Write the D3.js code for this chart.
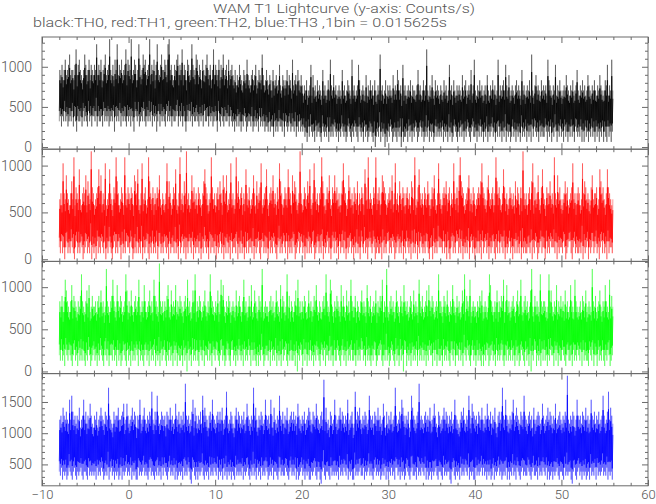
<!DOCTYPE html>
<html><head><meta charset="utf-8">
<script src="https://cdn.jsdelivr.net/npm/d3@7"></script>
<style>
body{margin:0;background:#fff}
svg text{font-family:Roboto,'DejaVu Sans',sans-serif;font-weight:300;fill:#555}
</style>
</head><body><svg id="c" width="656" height="504"></svg>
<script>
// ---- data (levels per 0.125 s chunk, base-36 digit = counts per 1/64 s bin) ----
const binSize = 0.015625;
const chunkDt = 0.125;
const tStart = -8;
const xTicks = [-10, 0, 10, 20, 30, 40, 50, 60];
const panelColors = ["#000000", "#ff0000", "#00ff00", "#0000ff"];
const yTicks = [[0, 500, 1000], [0, 500, 1000], [0, 500, 1000], [500, 1000, 1500]];
const titleText = "WAM T1 Lightcurve (y-axis: Counts/s)";
const subtitleText = "black:TH0, red:TH1, green:TH2, blue:TH3 ,1bin = 0.015625s";

const th0Max = ["fegdfhefgieffdgjeghfedfigefhdgfe","gfkegfhdfgiefglfegdhfkegfhefgjeh","gflefhgdfkgefighefglegfhdgkfegif","fhgeklfgedgfhiegfjegfdhgefkgfeih","egfdhfegifegdfjegfehdgfiefgdhefg","edfcedgedcfedhedcefdegcdfediecdf","dcedbfcdecdgcbedcdfcedbhcdecfdce","cacbdabcgaebcadbcbafbcabdbhcbebc","abcbafbcabdcbahbcabcgdabcbaeacbd","bcadbacbibcabdacbcbaebcbfdbcagbc","abcbdacbbacfbcabdbcjbacbebadbcba","cbadbcabgbcadbacbcbaebcdabcbfach","bacbdbcabcaebacbdbcabhacbcdbgcbe","abcbacdbcbafbcabcbdaibacebcbadbc","bcahdcbacbgacbdbabcbecbacbdabcfb","acbdbcabecbacbdbacbecbabdcgacbhb"];
const th0Min = ["56465756456574653655647565475646","65746556475656456573656574656546","56465376564565754656574656357465","65475656465567465646536575646556","54656475564656456537546546556465","45354645354653455463454536454534","43534425343544352543453443524353","43423142432314233214323241323243","23132432312432132432143231423123","32130232413230213243123213240312","23142313243123423123241323124232","32413231423124321324231324321342","23132423132413234231324231324132","31242313231423241323142432314232","24313241324313242314231324231432","32413142313242314231324132142313"];
const th1Max = ["ab9gbaeba9bdah9cbafa9bcbe9dbaicb","9abcfbe9bag9abfba9cbhdb9acb9hbac","bacb9edbfa9bgabc9ahdbac9bacbea9b","a9bgadb9acbfa9bhab9dbiab9aebcab9","cba9bdfcb9abhcab9bcadb9ecbe9abga","b9ahbdabc9bafbac9abeb9dabcg9abcf","a9bcbeab9cagdb9acbafcb9ebdca9bib","9acbadbfa9bgcab9bchdb9acbea9cbeb","cab9bdgcb9aecab9cbad9bacb9fcahab","a9cbhabc9bedcb9abcae9bgab9dbacb9","bcab9dcah9acfbab9cbadb9acbea9bgb","a9bcbdabc9bagbac9ehdcb9abceab9cb","9abcbdgcba9cebabc9bhdbca9bfcab9a","cbab9dacb9caibab9bcadg9cabea9cfb","a9cbbdab9hbaebca9abdbc9abcgab9bc","b9agbdcaba9ceabbc9afdbca9bfcba9a"];
const th1Min = ["21312023121321023121320123121302","12031213213021321023121320312132","21320121312130212310213121302312","13212031221312031231202132130212","21302132120312213021231202131203","12213021312021312213021231023121","20312132102312132130212132012312","31202131213201231213021231202313","12031221302123120213120321312023","21320121120312133121320123121302","13212031213021321213210220312132","22131203102312133121302121302312","02131203123120212310213132130212","31202131213021211221302132012312","20312132221302122132012331023121","12130212302123123120231312031221"];
const th2Max = ["dcebdhfdcbdgcedcbdceidcbdfcgbcec","cdbdecfcdbcjdcbdehdcbgdcedbcdifb","dcfcbdecdhcbdcgdbcdfcdbhedcbkdcd","bdcegcbfcdcgbdcedcbdechcdbcfdibd","cedbcdfcbdciedcbdcfbdhegcbdcedbc","dcbfcdecbdhcdbcecgbcfdcbedcjbcdc","cbdecdbcfdcbgcedbcicebdcbdfchcdb","dcedbcfcdbcedgcbdcbdecidcbhfcbdc","edcbgcecbfcdbhdccebdcbdfcdcbgdce","bcdcfbdcedhbdcjcbdecdbcfdcbedcgd","cdbcedbfcdcbhdcebcdfcgdcedbcdcid","dcbedcfcbdcgdcbecdbcfdibedchbcdc","cbdcedfbcdcbeigdcbdcfbdcedhbdgcd","bcdecbdfcdhcbdecdbcfjcbecdcbidcd","dcbcidfcbdcgbdcecdbfcdbcgdcbhdcb","cdbedcfbcdcbjdcebcdfcbdcgdcbhcec"];
const th2Min = ["32423143243213423142324213243123","42313243214324133242314231243214","23142324314232134231423241323142","34213242314241322314230423142324","21432413324231432432134231243214","42313243231423243142321313243123","32414232413231423421324223140324","31424132423132432143241332423142","24321342314232422314232442314232","13243123342132423124321423142304","41323142324142324231324331424132","23142324214324133242314324321342","31423213132431234231423234213242","32423142312432142314032441323142","42313243314241322432134223142324","32414232214324133142324213243123"];
const th3Max = ["jkimkjljiojpljkikjmhjkojlikjnkih","kjlhjkmkjilkjrkjihljkkmjjklnijnk","ijkmjlkhkjoijkmjikjlkqjiljpkijlk","jkhlkjmjkijnkjlikjliskjkijlohmki","kjlipkmkjhkljokjikljljmijkqkijlk","ihkmjlkikjlijnkjikjrkmjhkjlkijok","jkiokhmjikjpkjlikjmijkljljkinkji","kjlijkmljilkjnkjikljtjmijhlkijok","ijkmjlkikjoijklhiqjlkmjikjlkijpk","jkilkjmjkijnkhlikjlijkrkijlkomki","kjlhjpmkjiklsjkjikljkjmijknkihlk","ijkmjlkikjlijokjihjlkmjikjpkinlk","jkilkjmjikjnkjlikjmihkljlrkjokji","kjlojkmkjilkjpkjikljkhmijklkijnk","ijkmjlkikjnijkljikjlkujikjlkhjok","jkilkjmjkijokjlikjlijkpkijlqjmki"];
const th3Min = ["65746564576546754656754665475656","56475657645657467564656457465675","65746564475656756546756546575647","57654675657464565647565764367546","46567546564756576574656475646564","65475656574656754657564756475657","64565746654675655765467565746456","75646564465675466436754665475656","56475657657465644756567557465675","65467565645657464657564775646564","57654675564756576574645646567546","65475656643675465647565765746564","47565675756465645746567564565746","46575647654675655765467556475657","65746456465675466547565664367546","75646564564756574756567565746564"];

// ---- helpers ----
const toRate = segs => segs.join("").split("").map(c => parseInt(c, 36) / binSize);
const panels = [
  {max: th0Max, min: th0Min},
  {max: th1Max, min: th1Min},
  {max: th2Max, min: th2Min},
  {max: th3Max, min: th3Min}
];

const svg = d3.select("#c");
const x = d3.scaleLinear().domain([-10, 60]).range([42, 648]);
const panelTop = 37, panelH = 112.2;
const frameColor = "#6a6a6a";
const xMinor = d3.range(-10, 61, 2).filter(v => v % 10 !== 0);
const xMajor = xTicks;
const coreShrink = 0.2;   // the dense middle of each chunk's stroke is drawn darker

function styleAxis(g) {
  g.select(".domain").remove();
  g.selectAll("line").attr("stroke", frameColor).attr("stroke-width", 1);
  g.selectAll("text").attr("fill", "#555").style("font-size", "13px")
    .style("font-family", "Roboto,'DejaVu Sans',sans-serif").style("font-weight", 300);
}

panels.forEach((p, i) => {
  const top = panelTop + i * panelH, bottom = top + panelH;
  const maxV = toRate(p.max), minV = toRate(p.min);
  const n = Math.min(maxV.length, minV.length);
  const lo = d3.min(minV), hi = d3.max(maxV), pad = 0.02 * (hi - lo);
  const y = d3.scaleLinear().domain([lo - pad, hi + pad]).range([bottom, top]);

  const pts = [], corePts = [];
  for (let k = 0; k < n; k++) {
    const a = minV[k], b = maxV[k], t = tStart + k * chunkDt;
    pts.push([t, a]);
    pts.push([t + 0.5 * chunkDt, b]);
    corePts.push([t, a + coreShrink * (b - a)]);
    corePts.push([t + 0.5 * chunkDt, b - coreShrink * (b - a)]);
  }

  const clipId = "clip" + i;
  svg.append("clipPath").attr("id", clipId).append("rect")
    .attr("x", 42).attr("y", top).attr("width", 606).attr("height", panelH);

  const line = d3.line().x(d => x(d[0])).y(d => y(d[1]));
  const g = svg.append("g").attr("clip-path", `url(#${clipId})`);
  g.append("path").datum(pts)
    .attr("fill", "none").attr("stroke", panelColors[i])
    .attr("stroke-width", 1).attr("stroke-opacity", 0.4)
    .attr("d", line);
  g.append("path").datum(corePts)
    .attr("fill", "none").attr("stroke", panelColors[i])
    .attr("stroke-width", 1).attr("stroke-opacity", 0.7)
    .attr("d", line);

  // y ticks
  const yMajor = yTicks[i];
  const yMinor = d3.range(Math.ceil((lo - pad) / 100) * 100, hi + pad, 100).filter(v => v % 500 !== 0);
  const gL = svg.append("g").attr("transform", "translate(42,0)");
  gL.append("g").call(d3.axisRight(y).tickValues(yMinor).tickSize(3).tickFormat("")).call(styleAxis);
  gL.append("g").call(d3.axisRight(y).tickValues(yMajor).tickSize(6).tickFormat("")).call(styleAxis);
  gL.append("g").call(d3.axisLeft(y).tickValues(yMajor).tickSize(0).tickPadding(10).tickFormat(d3.format("d"))).call(styleAxis)
    .selectAll("text").style("font-size", "14px");
  const gR = svg.append("g").attr("transform", "translate(648,0)");
  gR.append("g").call(d3.axisLeft(y).tickValues(yMinor).tickSize(3).tickFormat("")).call(styleAxis);
  gR.append("g").call(d3.axisLeft(y).tickValues(yMajor).tickSize(6).tickFormat("")).call(styleAxis);

  // x ticks top and bottom (inward)
  const gT = svg.append("g").attr("transform", `translate(0,${top})`);
  gT.append("g").call(d3.axisBottom(x).tickValues(xMinor).tickSize(3).tickFormat("")).call(styleAxis);
  gT.append("g").call(d3.axisBottom(x).tickValues(xMajor).tickSize(6).tickFormat("")).call(styleAxis);
  const gB = svg.append("g").attr("transform", `translate(0,${bottom})`);
  gB.append("g").call(d3.axisTop(x).tickValues(xMinor).tickSize(3).tickFormat("")).call(styleAxis);
  gB.append("g").call(d3.axisTop(x).tickValues(xMajor).tickSize(6).tickFormat("")).call(styleAxis);
  if (i === panels.length - 1) {
    gB.append("g").call(d3.axisBottom(x).tickValues(xMajor).tickSize(0).tickPadding(4)).call(styleAxis);
  }

  svg.append("rect").attr("x", 42).attr("y", top).attr("width", 606).attr("height", panelH)
    .attr("fill", "none").attr("stroke", frameColor).attr("stroke-width", 1);
});

svg.append("text").attr("x", 344).attr("y", 13).attr("text-anchor", "middle")
  .attr("textLength", 262).attr("lengthAdjust", "spacingAndGlyphs")
  .style("font-size", "13px").text(titleText);
svg.append("text").attr("x", 33).attr("y", 27)
  .attr("textLength", 414).attr("lengthAdjust", "spacingAndGlyphs")
  .style("font-size", "13px").text(subtitleText);
</script>
</body></html>
